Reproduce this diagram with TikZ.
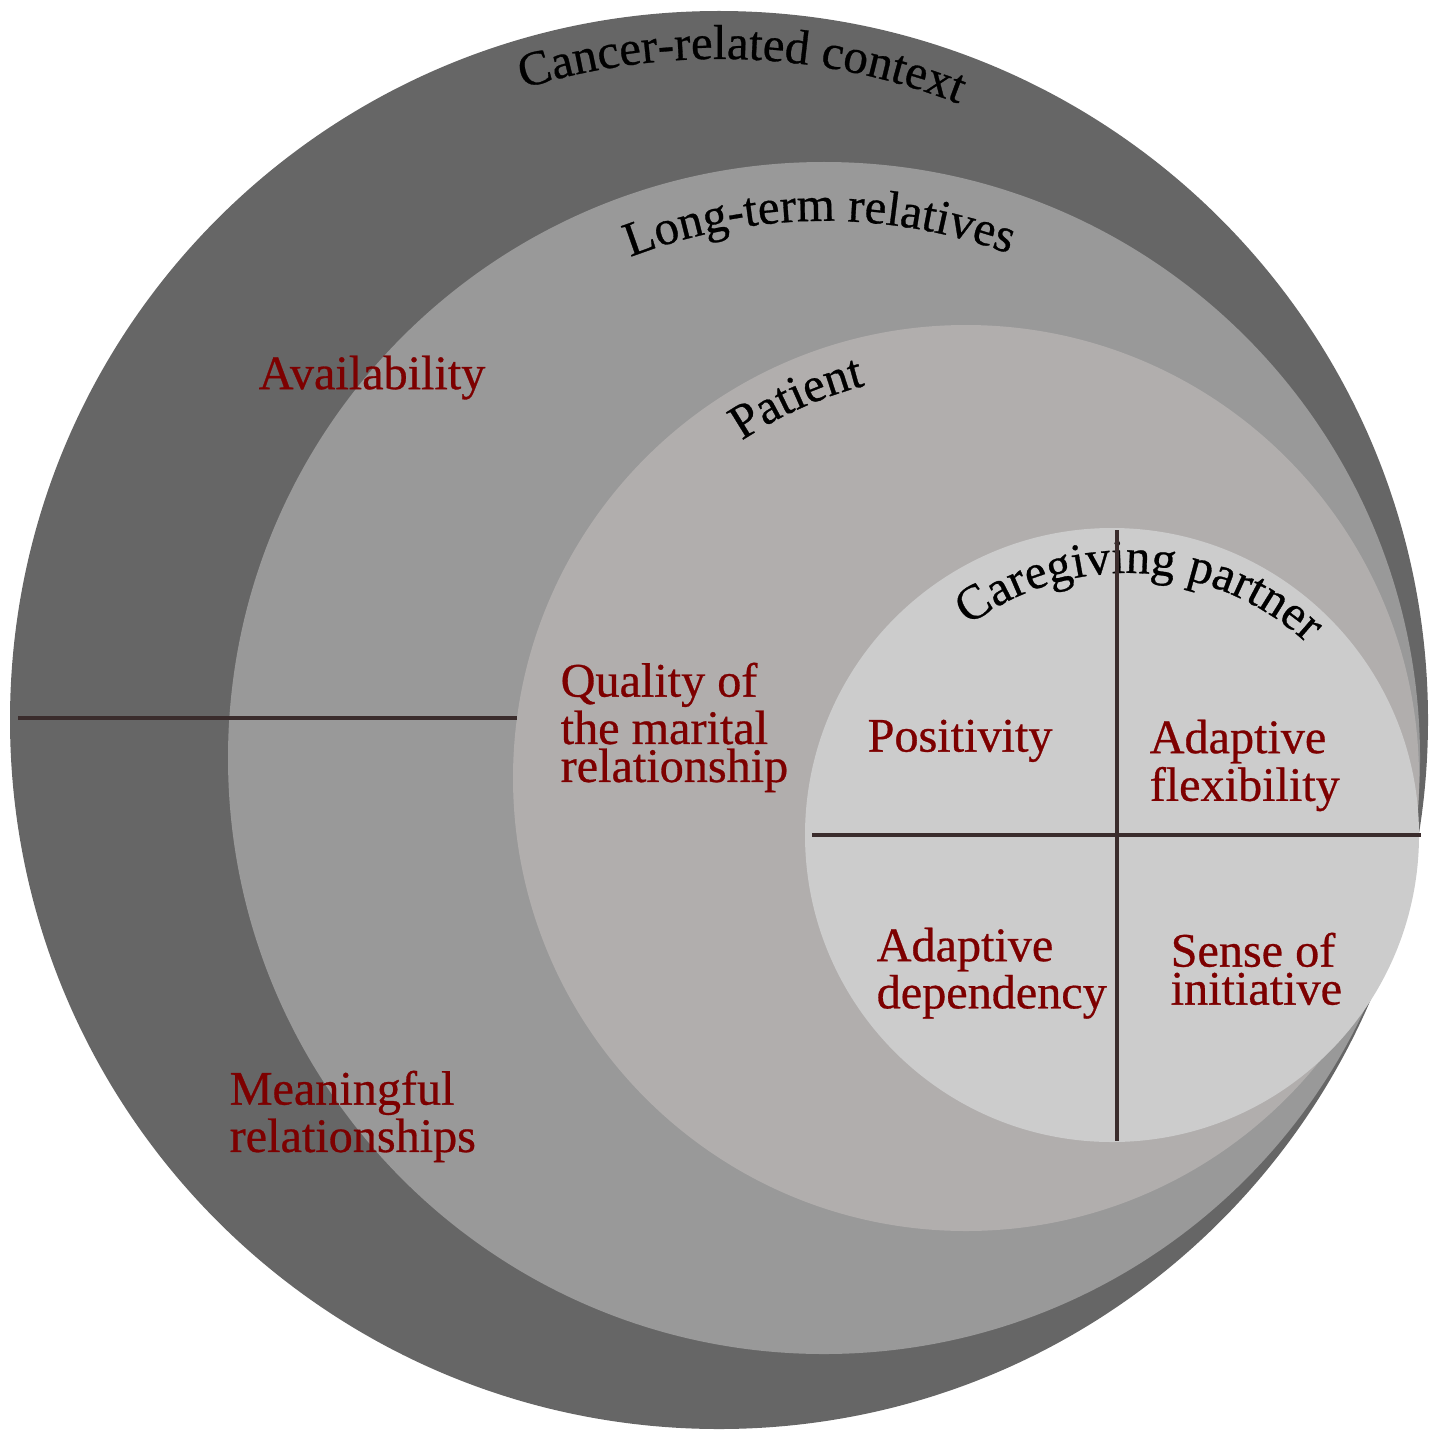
\documentclass[tikz,border=0pt]{standalone}
\usepackage{fontspec}
\setmainfont{Liberation Serif}
\newfontfamily\lblfont[FakeBold=0.6]{Liberation Serif}
\usetikzlibrary{decorations.text}
\definecolor{ringA}{HTML}{666666}
\definecolor{ringB}{HTML}{999999}
\definecolor{ringC}{HTML}{B1AEAD}
\definecolor{ringD}{HTML}{CCCCCC}
\definecolor{lblred}{RGB}{125,0,0}
\definecolor{divline}{HTML}{3A2C2C}
\tikzset{
  redlbl/.style={anchor=north west, inner sep=0pt, align=left, text=lblred,
    font=\lblfont\fontsize{13.7}{10.8}\selectfont},
  divider/.style={draw=divline, line width=1.1pt},
  arclbl/.style={decorate, decoration={text along path, text align=center,
    text={|\lblfont\fontsize{13.9}{16}\selectfont|#1}}}
}
\begin{document}
\begin{tikzpicture}[x=0.01cm,y=0.01cm]
\useasboundingbox (0,0) rectangle (1437,1429);
% rings
\fill[ringA] (719,709) circle (709);
\fill[ringB] (824,671) circle (596);
\fill[ringC] (966,651) circle (453);
\fill[ringD] (1112,594) circle (307);
% curved titles
\path[arclbl={Cancer-related context}] (719,709) ++(148:661) arc[start angle=148, end angle=28, radius=661];
\path[arclbl={Long-term relatives}] (824,671) ++(150:537) arc[start angle=150, end angle=31, radius=537];
\path[arclbl={Patient}] (966,651) ++(174:405) arc[start angle=174, end angle=54, radius=405];
\path[arclbl={Caregiving partner}] (1127,591) ++(167:265) arc[start angle=167, end angle=7, radius=265];
% dividers
\coordinate (lt) at (18,711);
\coordinate (lr) at (517,711);
\coordinate (vt) at (1117,899);
\coordinate (vb) at (1117,288);
\coordinate (hl) at (812,594);
\coordinate (hr) at (1421,594);
\draw[divider] (lt) -- (lr);
\draw[divider] (vt) -- (vb);
\draw[divider] (hl) -- (hr);
% red labels
\node[redlbl] (avail) at (258,1074) {Availability};
\node[redlbl] (meaning) at (229,359) {Meaningful\\relationships};
\node[redlbl] (quality) at (560,767) {Quality of\\the marital\\relationship};
\node[redlbl] (posit) at (867,710) {Positivity};
\node[redlbl] (adflex) at (1149,710) {Adaptive\\flexibility};
\node[redlbl] (addep) at (876,502) {Adaptive\\dependency};
\node[redlbl] (sense) at (1170,497) {Sense of\\initiative};
\end{tikzpicture}
\end{document}
